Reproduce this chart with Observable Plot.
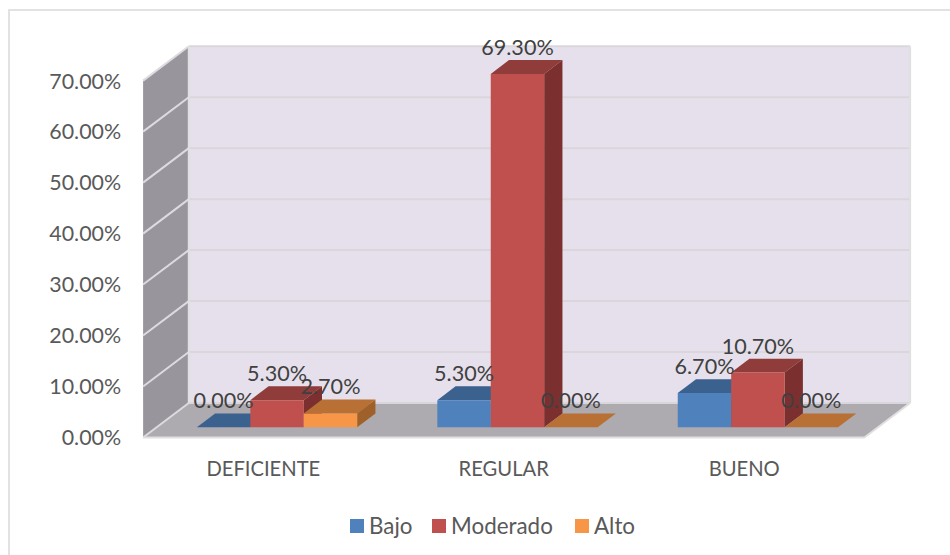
<!DOCTYPE html>
<html>
<head>
<meta charset="utf-8">
<script src="https://cdn.jsdelivr.net/npm/d3@7"></script>
<script src="https://cdn.jsdelivr.net/npm/@observablehq/plot@0.6"></script>
<style>
html,body{margin:0;padding:0;background:#fff}
#page{position:relative;width:950px;height:555px;overflow:hidden;font-family:Lato,sans-serif}
#frame{position:absolute;left:8px;top:9px;width:960px;height:600px;border:2px solid #e2e2e2;box-sizing:border-box}
#chart{position:absolute;left:0;top:0}
#legend{position:absolute;top:500px;left:0;width:950px;height:55px;color:#595959;font-size:22.4px}
.item{position:absolute;top:14px;display:flex;align-items:center;height:22px}
.sw{width:14px;height:14px;margin-right:5px;position:relative;top:1px}
</style>
</head>
<body>
<div id="page"><div id="frame"></div><div id="chart"></div><div id="legend"></div></div>
<script>
const categories = ["DEFICIENTE", "REGULAR", "BUENO"];
const seriesNames = ["Bajo", "Moderado", "Alto"];
const bajo = [0.0, 5.3, 6.7];
const moderado = [5.3, 69.3, 10.7];
const alto = [2.7, 0.0, 0.0];
const yTicks = [0, 10, 20, 30, 40, 50, 60, 70];
const frontColors = ["#4F81BD", "#C0504D", "#F79646"];
const topColors = ["#3B618E", "#8F3C3A", "#B97034"];
const sideColors = ["#345679", "#7B2F2E", "#A06029"];
const legendX = [350, 432, 575];

// oblique projection, in data units: full depth of the chart box
const DX = 0.19, DY = 6.76;
const proj = (x, v, d) => ({x: x + d * DX, y: v + d * DY});
const XMAX = categories.length, YMAX = 70;

const polys = [];
let pid = 0;
const addPoly = (fill, pts) => { pid++; pts.forEach(p => polys.push({...p, id: pid, fill})); };

// walls and floor
addPoly("#98959C", [proj(0,0,0), proj(0,0,1), proj(0,YMAX,1), proj(0,YMAX,0)]);
addPoly("#ADAAB0", [proj(0,0,0), proj(XMAX,0,0), proj(XMAX,0,1), proj(0,0,1)]);
addPoly("#E6E0EC", [proj(0,0,1), proj(XMAX,0,1), proj(XMAX,YMAX,1), proj(0,YMAX,1)]);
const wallCount = polys.length;

// bars (painted back to front, left to right)
const series = [bajo, moderado, alto];
const labels = [];
const GAP = 1/6, BW = 2/9, D0 = 0.3, D1 = 0.7;
categories.forEach((c, i) => {
  series.forEach((vals, j) => {
    const v = vals[i];
    const x0 = i + GAP + j * BW, x1 = x0 + BW;
    addPoly(topColors[j], [proj(x0,v,D0), proj(x1,v,D0), proj(x1,v,D1), proj(x0,v,D1)]);
    if (v > 0) {
      addPoly(sideColors[j], [proj(x1,0,D0), proj(x1,0,D1), proj(x1,v,D1), proj(x1,v,D0)]);
      addPoly(frontColors[j], [proj(x0,0,D0), proj(x1,0,D0), proj(x1,v,D0), proj(x0,v,D0)]);
    }
    const p = proj((x0 + x1) / 2, v, D0);
    labels.push({x: p.x, y: p.y, text: v.toFixed(2) + "%"});
  });
});

const sideGrid = yTicks.map(v => ({x1: 0, y1: v, x2: DX, y2: v + DY}));
const backGrid = yTicks.map(v => ({x1: DX, y1: v + DY, x2: XMAX + DX, y2: v + DY}));
const edges = [
  {x1: 0, y1: 0, x2: XMAX, y2: 0},
  {x1: XMAX, y1: 0, x2: XMAX + DX, y2: DY},
  {x1: XMAX + DX, y1: DY, x2: XMAX + DX, y2: YMAX + DY},
  {x1: DX, y1: DY, x2: DX, y2: YMAX + DY}
];

const plot = Plot.plot({
  width: 950, height: 500,
  marginLeft: 142.6, marginRight: 40.4, marginTop: 45.7, marginBottom: 63,
  style: {fontFamily: "Lato, sans-serif", fontSize: "21.4px", background: "transparent", color: "#595959"},
  x: {domain: [0, XMAX + DX], axis: null},
  y: {domain: [0, YMAX + DY], axis: null},
  color: {type: "identity"},
  marks: [
    Plot.line(polys.slice(0, wallCount), {x: "x", y: "y", z: "id", fill: "fill", stroke: "none"}),
    Plot.link(sideGrid, {x1: "x1", y1: "y1", x2: "x2", y2: "y2", stroke: "#DDDBDF", strokeWidth: 2}),
    Plot.link(backGrid, {x1: "x1", y1: "y1", x2: "x2", y2: "y2", stroke: "#D9D7DB", strokeWidth: 2}),
    Plot.link(edges, {x1: "x1", y1: "y1", x2: "x2", y2: "y2", stroke: "#E0E0E0", strokeWidth: 2}),
    Plot.line(polys.slice(wallCount), {x: "x", y: "y", z: "id", fill: "fill", stroke: "none"}),
    Plot.axisY({ticks: yTicks, tickSize: 0, tickPadding: 22, dy: 1, tickFormat: d => d.toFixed(2) + "%", label: null, fill: "#595959", fontSize: 21.4}),
    Plot.axisX({ticks: categories.map((c, i) => i + 0.5), tickSize: 0, tickPadding: 24, tickFormat: d => categories[d - 0.5], label: null, fill: "#595959", fontSize: 20.2}),
    Plot.text(labels, {x: "x", y: "y", text: "text", dy: -26, fill: "#404040", fontSize: 21.6})
  ]
});
document.getElementById("chart").append(plot);

const legend = d3.select("#legend");
seriesNames.forEach((n, i) => {
  const it = legend.append("div").attr("class", "item").style("left", legendX[i] + "px");
  it.append("div").attr("class", "sw").style("background", frontColors[i]);
  it.append("span").text(n);
});
</script>
</body>
</html>
